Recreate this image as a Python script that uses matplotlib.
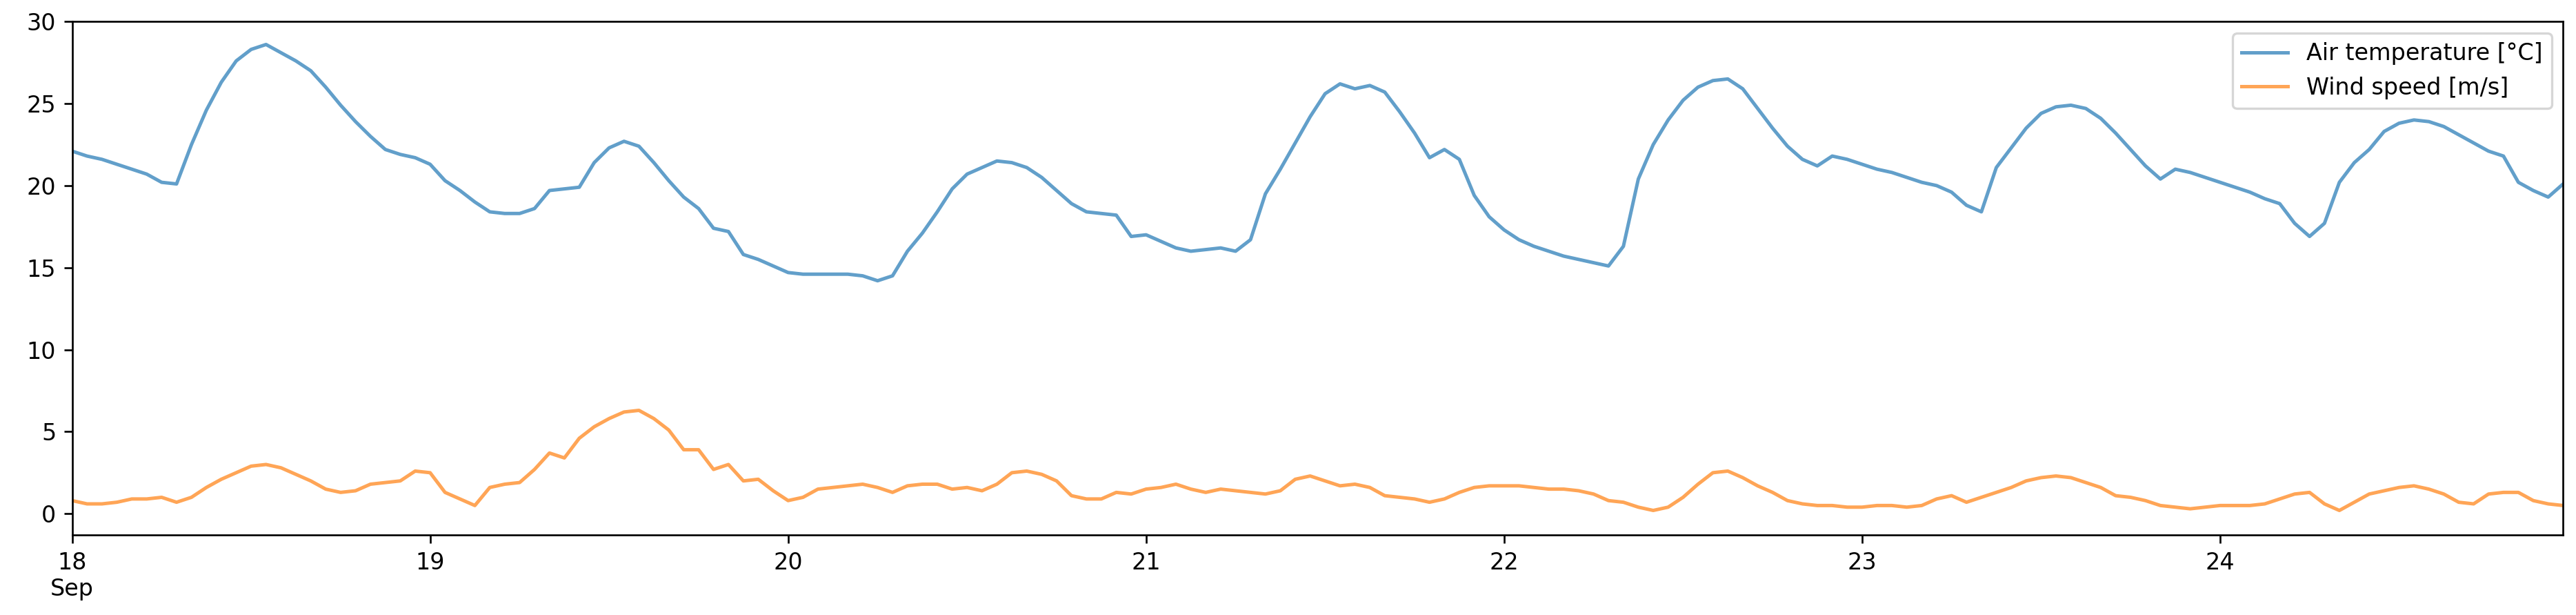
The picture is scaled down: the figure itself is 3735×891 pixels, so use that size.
import pandas as pd
import matplotlib
matplotlib.use("Agg")
import matplotlib.pyplot as plt

# hourly readings, Sep 18 00:00 .. Sep 24 23:00
air_temp = [
    22.1, 21.8, 21.6, 21.3, 21.0, 20.7, 20.2, 20.1, 22.5, 24.6, 26.3, 27.6, 28.3, 28.6, 28.1, 27.6, 27.0, 26.0, 24.9, 23.9, 23.0, 22.2, 21.9, 21.7,
    21.3, 20.3, 19.7, 19.0, 18.4, 18.3, 18.3, 18.6, 19.7, 19.8, 19.9, 21.4, 22.3, 22.7, 22.4, 21.4, 20.3, 19.3, 18.6, 17.4, 17.2, 15.8, 15.5, 15.1,
    14.7, 14.6, 14.6, 14.6, 14.6, 14.5, 14.2, 14.5, 16.0, 17.1, 18.4, 19.8, 20.7, 21.1, 21.5, 21.4, 21.1, 20.5, 19.7, 18.9, 18.4, 18.3, 18.2, 16.9,
    17.0, 16.6, 16.2, 16.0, 16.1, 16.2, 16.0, 16.7, 19.5, 21.0, 22.6, 24.2, 25.6, 26.2, 25.9, 26.1, 25.7, 24.5, 23.2, 21.7, 22.2, 21.6, 19.4, 18.1,
    17.3, 16.7, 16.3, 16.0, 15.7, 15.5, 15.3, 15.1, 16.3, 20.4, 22.5, 24.0, 25.2, 26.0, 26.4, 26.5, 25.9, 24.7, 23.5, 22.4, 21.6, 21.2, 21.8, 21.6,
    21.3, 21.0, 20.8, 20.5, 20.2, 20.0, 19.6, 18.8, 18.4, 21.1, 22.3, 23.5, 24.4, 24.8, 24.9, 24.7, 24.1, 23.2, 22.2, 21.2, 20.4, 21.0, 20.8, 20.5,
    20.2, 19.9, 19.6, 19.2, 18.9, 17.7, 16.9, 17.7, 20.2, 21.4, 22.2, 23.3, 23.8, 24.0, 23.9, 23.6, 23.1, 22.6, 22.1, 21.8, 20.2, 19.7, 19.3, 20.1,
]
wind_speed = [
    0.8, 0.6, 0.6, 0.7, 0.9, 0.9, 1.0, 0.7, 1.0, 1.6, 2.1, 2.5, 2.9, 3.0, 2.8, 2.4, 2.0, 1.5, 1.3, 1.4, 1.8, 1.9, 2.0, 2.6,
    2.5, 1.3, 0.9, 0.5, 1.6, 1.8, 1.9, 2.7, 3.7, 3.4, 4.6, 5.3, 5.8, 6.2, 6.3, 5.8, 5.1, 3.9, 3.9, 2.7, 3.0, 2.0, 2.1, 1.4,
    0.8, 1.0, 1.5, 1.6, 1.7, 1.8, 1.6, 1.3, 1.7, 1.8, 1.8, 1.5, 1.6, 1.4, 1.8, 2.5, 2.6, 2.4, 2.0, 1.1, 0.9, 0.9, 1.3, 1.2,
    1.5, 1.6, 1.8, 1.5, 1.3, 1.5, 1.4, 1.3, 1.2, 1.4, 2.1, 2.3, 2.0, 1.7, 1.8, 1.6, 1.1, 1.0, 0.9, 0.7, 0.9, 1.3, 1.6, 1.7,
    1.7, 1.7, 1.6, 1.5, 1.5, 1.4, 1.2, 0.8, 0.7, 0.4, 0.2, 0.4, 1.0, 1.8, 2.5, 2.6, 2.2, 1.7, 1.3, 0.8, 0.6, 0.5, 0.5, 0.4,
    0.4, 0.5, 0.5, 0.4, 0.5, 0.9, 1.1, 0.7, 1.0, 1.3, 1.6, 2.0, 2.2, 2.3, 2.2, 1.9, 1.6, 1.1, 1.0, 0.8, 0.5, 0.4, 0.3, 0.4,
    0.5, 0.5, 0.5, 0.6, 0.9, 1.2, 1.3, 0.6, 0.2, 0.7, 1.2, 1.4, 1.6, 1.7, 1.5, 1.2, 0.7, 0.6, 1.2, 1.3, 1.3, 0.8, 0.6, 0.5,
]

idx = pd.date_range("2023-09-18 00:00", periods=len(air_temp), freq="h")
days = pd.date_range("2023-09-18", periods=7, freq="D")
day_labels = ["18\nSep", "19", "20", "21", "22", "23", "24"]

fig, ax = plt.subplots(figsize=(15.5625, 3.7125), dpi=240)
ax.plot(idx, air_temp, alpha=0.7, label="Air temperature [°C]")
ax.plot(idx, wind_speed, alpha=0.7, label="Wind speed [m/s]")
ax.set_xlim(idx[0], idx[-1])
ax.set_xticks(days)
ax.set_xticklabels(day_labels, ha="center")
ax.set_ylim(-1.3, 30)
ax.legend(loc="upper right")
fig.subplots_adjust(left=0.028, right=0.995, top=0.965, bottom=0.13)
fig.savefig("out.png")
